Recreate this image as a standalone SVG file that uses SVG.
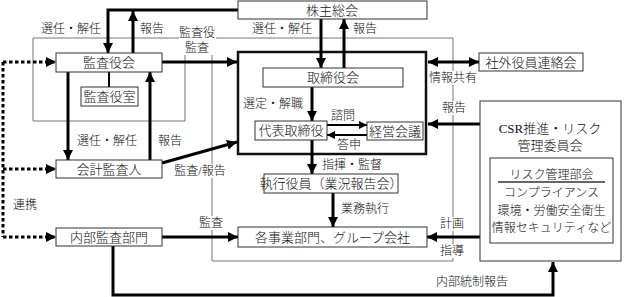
<svg xmlns="http://www.w3.org/2000/svg" width="624" height="297" viewBox="0 0 624 297">
<style>
text{font-family:"Liberation Serif","Noto Sans CJK JP",serif;fill:#111;text-anchor:middle;font-weight:300}
.n{font-size:13px}
.l{font-size:12px}
.box{fill:#fff;stroke:#333;stroke-width:1}
.thin{fill:none;stroke:#777;stroke-width:1}
.th{fill:none;stroke:#000;stroke-width:3}
.md{fill:none;stroke:#000;stroke-width:2}
.dot{fill:none;stroke:#000;stroke-width:3;stroke-dasharray:3.5 2.5}
.bg{fill:#fff}
</style>
<defs>
<marker id="a" viewBox="0 0 10 10" refX="10" refY="5" markerWidth="10" markerHeight="10" markerUnits="userSpaceOnUse" orient="auto-start-reverse"><path d="M0,0L10,5L0,10z" fill="#000"/></marker>
<marker id="s" viewBox="0 0 10 10" refX="10" refY="5" markerWidth="8" markerHeight="8" markerUnits="userSpaceOnUse" orient="auto"><path d="M0,0L10,5L0,10z" fill="#000"/></marker>
</defs>

<g id="frames">
<path class="thin" d="M33,38H453V261H212V38M185,38V121H33V38"/>
<rect x="238" y="52" width="188" height="102" fill="none" stroke="#111" stroke-width="2.5"/>
</g>

<g id="connectors">
<path class="th" d="M238,10H108V53" marker-end="url(#a)"/>
<path class="th" d="M133,53V11" marker-end="url(#a)"/>
<path class="th" d="M321,19V68" marker-end="url(#a)"/>
<path class="th" d="M344,68V19" marker-end="url(#a)"/>
<path class="th" d="M162,62H237" marker-end="url(#a)"/>
<path class="th" d="M428,62H479" marker-start="url(#a)" marker-end="url(#a)"/>
<path class="th" d="M480,124H428" marker-end="url(#a)"/>
<path class="th" d="M312,87V121" marker-end="url(#a)"/>
<path class="md" d="M327,125H367" marker-end="url(#s)"/>
<path class="md" d="M367,135H327" marker-end="url(#s)"/>
<path class="th" d="M312,140V174" marker-end="url(#a)"/>
<path class="th" d="M333,193V227" marker-end="url(#a)"/>
<path class="th" d="M162,237H238" marker-end="url(#a)"/>
<path class="th" d="M480,237H427" marker-end="url(#a)"/>
<path class="th" d="M68,72V160" marker-end="url(#a)"/>
<path class="th" d="M150,160V72" marker-end="url(#a)"/>
<path class="th" d="M162,163L237,142" marker-end="url(#a)"/>
<path class="th" d="M113,246V295H553V262" marker-end="url(#a)"/>
<path class="md" d="M109,72V87" stroke-width="2.5"/>
<path class="dot" d="M3,62V237"/>
<path class="dot" d="M3,62H56" marker-end="url(#a)"/>
<path class="dot" d="M3,169H56" marker-end="url(#a)"/>
<path class="dot" d="M3,237H56" marker-end="url(#a)"/>
</g>

<g id="labels">
<text class="l" x="71" y="33">選任・解任</text>
<text class="l" x="152" y="33">報告</text>
<rect class="bg" x="179" y="26" width="37" height="29"/>
<text class="l" x="197" y="37">監査役</text>
<text class="l" x="197" y="52">監査</text>
<text class="l" x="282" y="33">選任・解任</text>
<text class="l" x="365" y="33">報告</text>
<rect class="bg" x="430" y="71" width="46" height="14"/>
<text class="l" x="453" y="82">情報共有</text>
<rect class="bg" x="441" y="101" width="26" height="14"/>
<text class="l" x="454" y="112">報告</text>
<text class="l" x="273" y="108">選定・解職</text>
<text class="l" x="343" y="120">諮問</text>
<text class="l" x="349" y="149">答申</text>
<text class="l" x="352" y="169">指揮・監督</text>
<text class="l" x="365" y="213">業務執行</text>
<text class="l" x="107" y="145">選任・解任</text>
<text class="l" x="170" y="145">報告</text>
<rect class="bg" x="172" y="164" width="56" height="14"/>
<text class="l" x="200" y="175">監査/報告</text>
<text class="l" x="25" y="209">連携</text>
<rect class="bg" x="198" y="216" width="26" height="14"/>
<text class="l" x="211" y="227">監査</text>
<rect class="bg" x="439" y="217" width="26" height="14"/>
<text class="l" x="452" y="228">計画</text>
<rect class="bg" x="439" y="244" width="26" height="14"/>
<text class="l" x="452" y="255">指導</text>
<text class="l" x="472" y="286">内部統制報告</text>
</g>

<g id="n-kabunushi"><rect class="box" x="238" y="1" width="189" height="18"/><text class="n" x="332" y="14.5">株主総会</text></g>
<g id="n-kansayakukai"><rect class="box" x="56" y="53" width="106" height="19"/><text class="n" x="109" y="67">監査役会</text></g>
<g id="n-kansayakushitsu"><rect class="box" x="81" y="87" width="57" height="19"/><text class="n" x="109.5" y="101">監査役室</text></g>
<g id="n-torishimariyakukai"><rect class="box" x="263" y="68" width="140" height="19"/><text class="n" x="333" y="82">取締役会</text></g>
<g id="n-daihyo"><rect class="box" x="255" y="121" width="72" height="19"/><text class="n" x="291" y="135">代表取締役</text></g>
<g id="n-keiei"><rect class="box" x="367" y="122" width="56" height="18"/><text class="n" x="395" y="135.5">経営会議</text></g>
<g id="n-shikko"><rect class="box" x="264" y="174" width="134" height="19"/><text class="n" x="331" y="188">執行役員（業況報告会）</text></g>
<g id="n-jigyo"><rect class="box" x="238" y="227" width="189" height="20"/><text class="n" x="332.5" y="241.5">各事業部門、グループ会社</text></g>
<g id="n-kaikei"><rect class="box" x="56" y="160" width="106" height="18"/><text class="n" x="109" y="173.5">会計監査人</text></g>
<g id="n-naibu"><rect class="box" x="56" y="228" width="106" height="18"/><text class="n" x="109" y="241.5">内部監査部門</text></g>
<g id="n-shagai"><rect class="box" x="479" y="53" width="104" height="18"/><text class="n" x="531" y="66.5">社外役員連絡会</text></g>
<g id="n-csr">
<rect class="box" x="480" y="101" width="141" height="160"/>
<text class="n" x="550" y="133">CSR推進・リスク</text>
<text class="n" x="550" y="150">管理委員会</text>
<rect class="box" x="490" y="158" width="123" height="85"/>
<text class="l" x="551.5" y="179">リスク管理部会</text>
<line x1="498" y1="182" x2="605" y2="182" stroke="#333" stroke-width="1.5"/>
<text class="l" x="551.5" y="197">コンプライアンス</text>
<text class="l" x="551.5" y="215">環境・労働安全衛生</text>
<text class="l" x="551.5" y="232">情報セキュリティなど</text>
</g>
</svg>
